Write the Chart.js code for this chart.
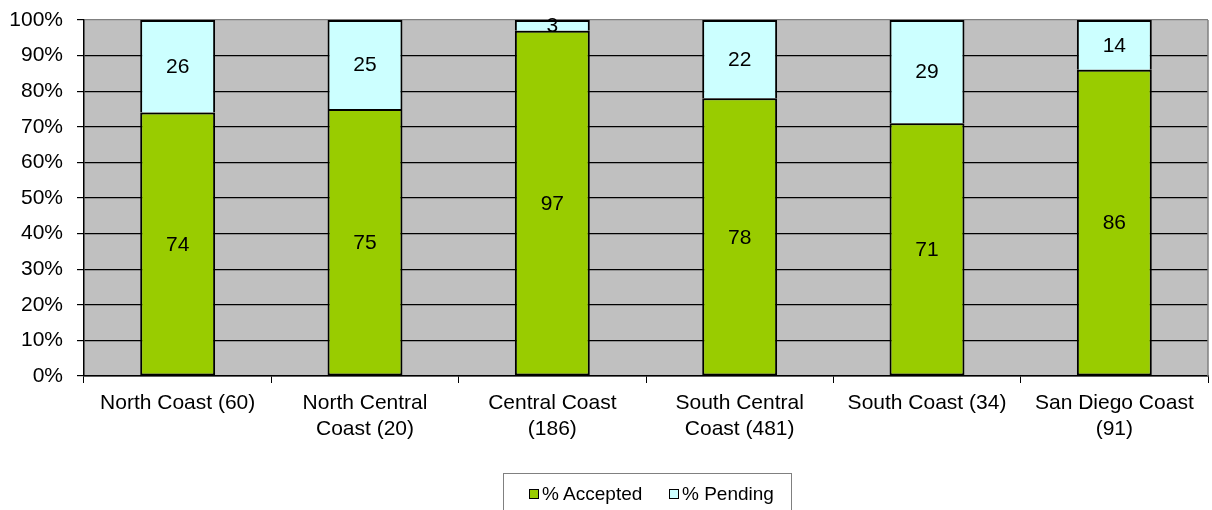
<!DOCTYPE html>
<html>
<head>
<meta charset="utf-8">
<script src="https://cdn.jsdelivr.net/npm/chart.js@4.4.1/dist/chart.umd.min.js"></script>
<style>
  html, body { margin: 0; padding: 0; background: #fff; }
  #wrap { position: relative; width: 1212px; height: 510px; }
  #legend {
    position: absolute; left: 503px; top: 473px; width: 289px; height: 40px;
    border: 1px solid #808080; box-sizing: border-box;
    font-family: "Liberation Sans", Arial, sans-serif; font-size: 19px; color: #000;
  }
  #legend span.item { position: absolute; top: 9px; line-height: 22px; }
  #legend i {
    display: inline-block; width: 8px; height: 8px; border: 1px solid #000;
    margin-right: 3px; vertical-align: 1px;
  }
</style>
</head>
<body>
<div id="wrap">
  <canvas id="Chart" width="1212" height="510"></canvas>
  <div id="legend">
    <span class="item" style="left:25px"><i style="background:#99cc00"></i>% Accepted</span>
    <span class="item" style="left:165px"><i style="background:#ccffff"></i>% Pending</span>
  </div>
</div>
<script>
const regions = [
  'North Coast (60)',
  ['North Central', 'Coast (20)'],
  ['Central Coast', '(186)'],
  ['South Central', 'Coast (481)'],
  'South Coast (34)',
  ['San Diego Coast', '(91)']
];
const accepted = [74, 75, 97, 78, 71, 86];
const pending = [26, 25, 3, 22, 29, 14];

const font = "'Liberation Sans', Arial, sans-serif";

// gray plot background
const plotBg = {
  id: 'plotBg',
  beforeDraw(chart) {
    const { ctx, chartArea: a } = chart;
    ctx.save();
    ctx.fillStyle = '#c0c0c0';
    ctx.fillRect(a.left, a.top, a.right - a.left, a.bottom - a.top);
    ctx.restore();
  },
  afterDatasetsDraw(chart) {
    // right border of the plot in gray
    const { ctx, chartArea: a } = chart;
    ctx.save();
    ctx.strokeStyle = '#808080';
    ctx.lineWidth = 1.5;
    ctx.beginPath();
    ctx.moveTo(a.right, a.top);
    ctx.lineTo(a.right, a.bottom);
    ctx.stroke();
    ctx.restore();
  }
};

// value text in the middle of each segment
const segLabels = {
  id: 'segLabels',
  afterDatasetsDraw(chart) {
    const ctx = chart.ctx;
    ctx.save();
    ctx.font = '21px ' + font;
    ctx.fillStyle = '#000';
    ctx.textAlign = 'center';
    ctx.textBaseline = 'middle';
    chart.data.datasets.forEach((ds, i) => {
      chart.getDatasetMeta(i).data.forEach((bar, j) => {
        const y = (bar.y + bar.base) / 2;
        ctx.fillText(ds.data[j], bar.x, y + 1);
      });
    });
    ctx.restore();
  }
};

const config = {
  type: 'bar',
  data: {
    labels: regions,
    datasets: [{
      label: '% Accepted',
      data: accepted,
      backgroundColor: '#99cc00',
      borderColor: '#000',
      borderWidth: 2,
      borderSkipped: false
    }, {
      label: '% Pending',
      data: pending,
      backgroundColor: '#ccffff',
      borderColor: '#000',
      borderWidth: { top: 2, left: 2, right: 2, bottom: 0 },
      borderSkipped: false
    }]
  },
  options: {
    responsive: false,
    animation: false,
    layout: { padding: { top: 20, right: 4, left: 0, bottom: 0 } },
    datasets: { bar: { barPercentage: 0.4, categoryPercentage: 1 } },
    scales: {
      x: {
        stacked: true,
        offset: true,
        afterFit(s) { s.height = 134; s.paddingLeft = 0; s.paddingRight = 0; },
        grid: {
          offset: true,
          drawOnChartArea: false,
          drawTicks: true,
          tickLength: 7,
          color: '#000'
        },
        border: { color: '#000', width: 1.5 },
        ticks: {
          color: '#000',
          font: { family: font, size: 21 },
          padding: 8,
          maxRotation: 0,
          autoSkip: false
        }
      },
      y: {
        stacked: true,
        min: 0,
        max: 100,
        afterFit(s) { s.width = 84; s.paddingTop = 0; s.paddingBottom = 0; },
        grid: {
          color: ctx => ctx.index === 10 ? '#808080' : '#000',
          lineWidth: 1.2,
          tickLength: 7,
          tickColor: '#000'
        },
        border: { color: '#000', width: 1.5 },
        ticks: {
          stepSize: 10,
          color: '#000',
          font: { family: font, size: 21 },
          padding: 14,
          callback: v => v + '%'
        }
      }
    },
    plugins: {
      legend: { display: false },
      tooltip: { enabled: false }
    }
  },
  plugins: [plotBg, segLabels]
};

const myChart = new Chart(document.getElementById('Chart'), config);
</script>
</body>
</html>
